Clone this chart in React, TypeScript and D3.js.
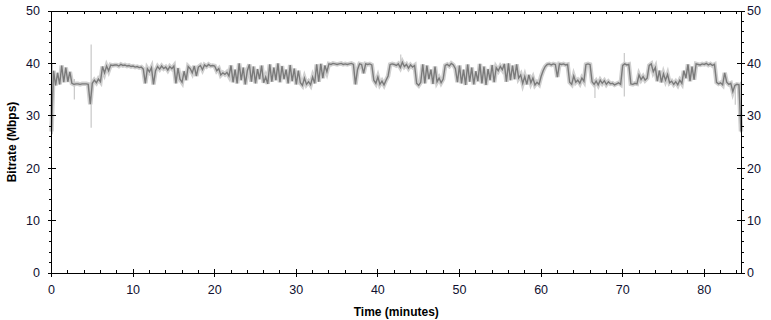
import React from "react";
import * as d3 from "d3";

const WIDTH = 771;
const HEIGHT = 320;
const PLOT = { left: 51.5, right: 741, top: 11, bottom: 273 };

// time step of the bitrate samples (minutes)
const STEP = 0.25;

// averaged bitrate (Mbps), one value every 0.25 min
const bitrate = [
  27.0, 38.6, 35.8, 38.2, 36.0, 39.6, 36.4, 39.2,
  36.5, 38.4, 36.2, 36.0, 36.1, 36.1, 36.0, 36.1,
  36.1, 36.1, 36.0, 32.2, 36.2, 36.8, 36.3, 37.0,
  36.5, 39.4, 38.2, 39.5, 38.6, 39.7, 39.6, 39.7,
  39.7, 39.5, 39.8, 39.6, 39.7, 39.5, 39.6, 39.4,
  39.5, 39.3, 39.4, 39.2, 39.3, 38.9, 36.2, 39.0,
  38.4, 39.2, 36.0, 38.6, 39.4, 38.9, 39.5, 39.0,
  39.3, 38.7, 39.4, 39.0, 39.5, 36.2, 39.1, 37.0,
  36.4, 38.5, 36.8, 39.4, 39.0, 38.2, 39.5, 37.6,
  39.3, 39.6, 38.8, 39.7, 39.4, 39.8, 39.5, 39.6,
  39.5, 38.6, 39.0, 37.8, 38.2, 37.9, 38.3, 37.6,
  39.6, 36.4, 38.8, 36.2, 40.0, 36.8, 39.2, 36.0,
  38.6, 39.8, 36.5, 39.4, 36.2, 38.9, 37.0, 39.6,
  36.3, 37.4, 36.1, 39.8, 36.5, 39.2, 36.8, 40.0,
  36.4, 39.5, 37.0, 38.8, 36.2, 39.7, 36.6, 39.0,
  36.0, 38.6, 36.3, 35.8, 37.2, 36.0, 36.5, 35.9,
  37.4, 36.2, 39.8, 36.5, 39.9, 37.2, 39.6, 38.4,
  39.9, 39.8, 40.0, 39.9, 39.8, 39.9, 40.0, 39.8,
  39.9, 39.8, 39.9, 40.0, 39.8, 36.0, 38.8, 39.9,
  39.8, 38.1, 39.9, 39.8, 39.9, 39.7, 36.8, 36.2,
  37.4, 36.0, 36.6, 35.9, 36.8, 37.6, 39.8, 39.9,
  39.8, 39.6, 39.9, 39.2, 40.2, 39.4, 39.8, 39.1,
  39.7, 39.3, 39.6, 36.2, 35.8, 36.4, 39.8, 36.2,
  39.6, 37.0, 38.8, 36.1, 39.4, 36.5, 37.2, 36.3,
  37.0, 39.6, 39.8, 39.5, 40.0, 39.7, 39.0, 36.4,
  39.6, 36.2, 38.8, 35.9, 39.8, 36.5, 39.2, 36.0,
  38.5, 36.6, 39.9, 36.2, 39.4, 35.9, 38.9, 36.8,
  39.7, 36.4, 39.2, 38.6, 39.4, 38.8, 39.9, 36.5,
  40.0, 36.8, 39.6, 37.0, 39.8, 37.2, 37.8, 36.2,
  37.5, 36.0, 37.8, 36.3, 37.2, 35.9, 36.4, 36.0,
  37.5, 38.6, 39.4, 39.8, 39.9, 39.7, 39.9, 39.8,
  37.4, 39.9, 39.8, 39.9, 39.7, 39.8, 36.4, 36.0,
  37.6, 36.4, 36.8, 36.2, 37.2, 36.6, 39.8, 39.9,
  39.8, 36.5, 36.0, 36.6, 35.9, 36.8, 36.2, 36.7,
  36.0, 36.5, 36.1, 36.2, 35.9, 36.1, 36.3, 36.0,
  39.6, 39.9, 39.7, 39.8, 36.1, 36.0, 36.2, 36.1,
  37.8, 36.9, 37.5, 36.8, 37.2, 39.6, 39.9, 38.4,
  39.2, 36.6, 38.6, 36.4, 38.0, 36.8, 37.9, 36.3,
  36.6, 36.0, 36.5, 35.9, 36.8, 36.2, 38.6, 37.2,
  39.8, 36.6, 39.4, 36.9, 39.9, 39.8, 39.7, 39.9,
  39.8, 40.0, 39.7, 39.9, 39.6, 39.8, 36.4, 36.1,
  36.3, 35.9, 38.2, 36.4, 36.0, 36.2, 34.6, 35.8,
  36.0, 35.9, 27.0,
];

// raw-sample excursions beyond the averaged trace: [minute, low, high]
const rawSpikeTimes = [0.1, 2.8, 4.86, 42.8, 66.6, 70.2, 83.8, 84.45];
const rawSpikeLow = [26.5, 33.1, 27.7, 39.0, 33.4, 33.7, 32.1, 26.8];
const rawSpikeHigh = [40.0, 37.0, 43.6, 41.7, 37.0, 42.0, 36.0, 36.5];

const xTickLabels = [0, 10, 20, 30, 40, 50, 60, 70, 80];
const yTickLabels = [0, 10, 20, 30, 40, 50];
const xMinorTicks = d3.range(0, 85, 2);
const yMinorTicks = d3.range(0, 51, 2);

const TICK_FONT = "'Liberation Sans', Arial, sans-serif";

export default function App() {
  const x = d3.scaleLinear().domain([0, 84.5]).range([PLOT.left, PLOT.right]);
  const y = d3.scaleLinear().domain([0, 50]).range([PLOT.bottom, PLOT.top]);

  const points = bitrate.map((v, i) => [i * STEP, v] as [number, number]);
  const line = d3
    .line<[number, number]>()
    .x((d) => x(d[0]))
    .y((d) => y(d[1]));
  const path = line(points) || "";

  return (
    <svg
      width={WIDTH}
      height={HEIGHT}
      style={{ position: "absolute", left: 0, top: 0, background: "#fff" }}
    >
      {/* raw samples (light) */}
      <path d={path} fill="none" stroke="#d0d0d0" strokeWidth={4.5} />
      {rawSpikeTimes.map((t, i) => (
        <line
          key={i}
          x1={x(t)}
          x2={x(t)}
          y1={y(rawSpikeLow[i])}
          y2={y(rawSpikeHigh[i])}
          stroke="#c8c8c8"
          strokeWidth={1.2}
        />
      ))}
      {/* averaged trace (dark) */}
      <path d={path} fill="none" stroke="#7a7a7a" strokeWidth={1.4} />

      {/* frame */}
      <g stroke="#000" strokeWidth={1} shapeRendering="crispEdges">
        <line x1={PLOT.left} x2={PLOT.right} y1={PLOT.bottom} y2={PLOT.bottom} />
        <line x1={PLOT.left} x2={PLOT.right} y1={PLOT.top} y2={PLOT.top} />
        <line x1={PLOT.left} x2={PLOT.left} y1={PLOT.top} y2={PLOT.bottom} />
        <line x1={PLOT.right} x2={PLOT.right} y1={PLOT.top} y2={PLOT.bottom} />

        {/* bottom / top minor ticks */}
        {xMinorTicks.map((t) => (
          <g key={"xm" + t}>
            <line x1={x(t)} x2={x(t)} y1={PLOT.bottom} y2={PLOT.bottom - 3} />
            <line x1={x(t)} x2={x(t)} y1={PLOT.top} y2={PLOT.top + 3} />
          </g>
        ))}
        {xTickLabels.map((t) => (
          <line key={"xM" + t} x1={x(t)} x2={x(t)} y1={PLOT.bottom - 4} y2={PLOT.bottom + 4} />
        ))}

        {/* left / right ticks */}
        {yMinorTicks.map((v) => (
          <g key={"ym" + v}>
            <line x1={PLOT.left - 3} x2={PLOT.left} y1={y(v)} y2={y(v)} />
            <line x1={PLOT.right} x2={PLOT.right + 3} y1={y(v)} y2={y(v)} />
          </g>
        ))}
        {yTickLabels.map((v) => (
          <g key={"yM" + v}>
            <line x1={PLOT.left - 4} x2={PLOT.left + 4} y1={y(v)} y2={y(v)} />
            <line x1={PLOT.right - 4} x2={PLOT.right + 4} y1={y(v)} y2={y(v)} />
          </g>
        ))}
      </g>

      {/* tick labels */}
      <g fontFamily={TICK_FONT} fontSize={12.5} fill="#101030">
        {xTickLabels.map((t) => (
          <text key={"xl" + t} x={x(t)} y={294} textAnchor="middle">
            {t}
          </text>
        ))}
        {yTickLabels.map((v) => (
          <g key={"yl" + v}>
            <text x={40} y={y(v)} dy="0.35em" textAnchor="end">
              {v}
            </text>
            <text x={747} y={y(v)} dy="0.35em" textAnchor="start">
              {v}
            </text>
          </g>
        ))}
      </g>

      {/* axis titles */}
      <text
        x={(PLOT.left + PLOT.right) / 2}
        y={316}
        textAnchor="middle"
        fontFamily={TICK_FONT}
        fontWeight="bold"
        fontSize={12}
        fill="#000"
      >
        Time (minutes)
      </text>
      <text
        transform={`translate(16,${(PLOT.top + PLOT.bottom) / 2}) rotate(-90)`}
        textAnchor="middle"
        fontFamily={TICK_FONT}
        fontWeight="bold"
        fontSize={12}
        fill="#000"
      >
        Bitrate (Mbps)
      </text>
    </svg>
  );
}
